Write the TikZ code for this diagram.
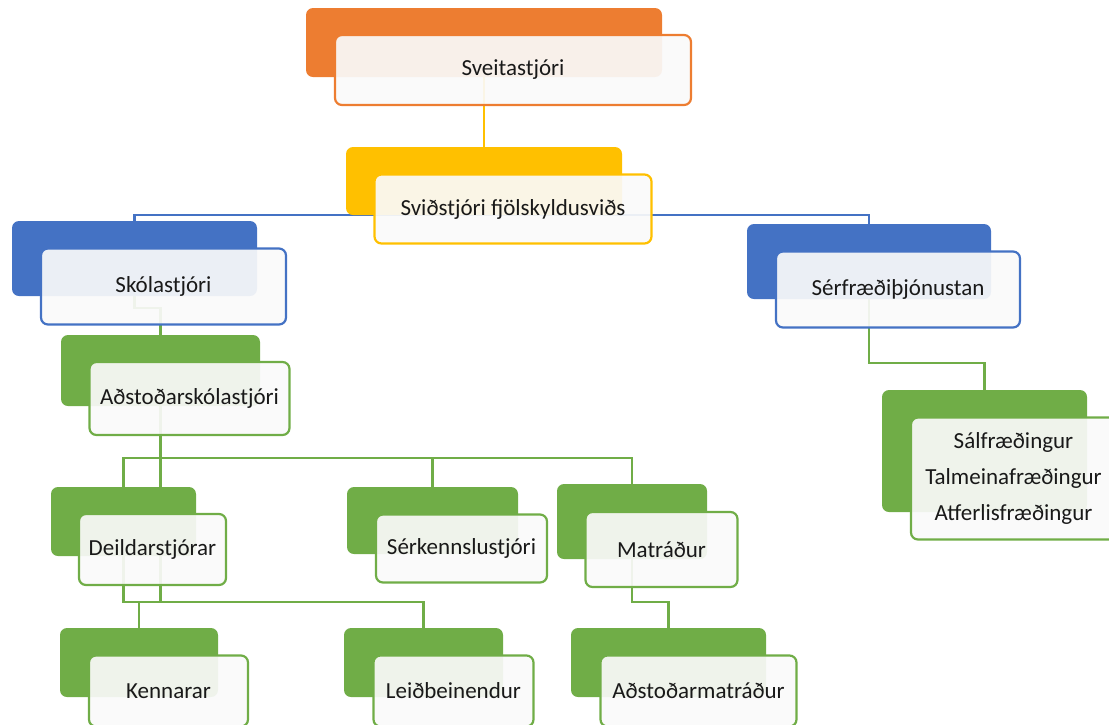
\documentclass[tikz,border=0pt]{standalone}
\usepackage{fontspec}
\setmainfont{Carlito}
\usetikzlibrary{backgrounds}
\definecolor{orgorange}{HTML}{ED7D31}
\definecolor{orgyellow}{HTML}{FFC000}
\definecolor{orgblue}{HTML}{4472C4}
\definecolor{orggreen}{HTML}{70AD47}
\tikzstyle{back}=[rounded corners=7pt, inner sep=0pt, draw=none]
\tikzstyle{front}=[rounded corners=7pt, inner sep=0pt, line width=2.2pt, fill=white!98!black, fill opacity=0.92, text opacity=1, text=black!90, font=\fontsize{23}{36}\selectfont]
\tikzstyle{link}=[line width=2.2pt]

\begin{document}
\begin{tikzpicture}[x=1pt,y=-1pt]
 \clip (0,0) rectangle (1109,724);
 % back boxes
 \node[back, fill=orgorange, minimum width=356, minimum height=69] (sveitaB) at (484,42.5) {};
 \node[back, fill=orgyellow, minimum width=276, minimum height=68] (svidB) at (484,181) {};
 \node[back, fill=orgblue, minimum width=245, minimum height=75] (skolB) at (134.5,258.5) {};
 \node[back, fill=orgblue, minimum width=244, minimum height=75] (serB) at (869,261.5) {};
 \node[back, fill=orggreen, minimum width=199, minimum height=71] (adsB) at (160.5,370.5) {};
 \node[back, fill=orggreen, minimum width=205, minimum height=122] (salB) at (984.5,451) {};
 \node[back, fill=orggreen, minimum width=145, minimum height=69] (delB) at (123.5,521.5) {};
 \node[back, fill=orggreen, minimum width=171, minimum height=67] (serkB) at (432.5,520.5) {};
 \node[back, fill=orggreen, minimum width=150, minimum height=75] (matB) at (632,521.5) {};
 \node[back, fill=orggreen, minimum width=158, minimum height=69] (kenB) at (139,662.5) {};
 \node[back, fill=orggreen, minimum width=159, minimum height=69] (leiB) at (423.5,662.5) {};
 \node[back, fill=orggreen, minimum width=195, minimum height=69] (adsmB) at (668.5,662.5) {};
 % front boxes
 \node[front, draw=orgorange, minimum width=356, minimum height=70] (sveita) at (513,70) {Sveitastjóri};
 \node[front, draw=orgyellow, minimum width=277, minimum height=69] (svid) at (513,209) {Sviðstjóri fjölskyldusviðs};
 \node[front, draw=orgblue, minimum width=245, minimum height=76] (skol) at (163.5,286.5) {Skólastjóri};
 \node[front, draw=orgblue, minimum width=244, minimum height=76] (ser) at (898,289.5) {Sérfræðiþjónustan};
 \node[front, draw=orggreen, minimum width=200, minimum height=73] (ads) at (189.5,398.5) {Aðstoðarskólastjóri};
 \node[front, draw=orggreen, minimum width=205, minimum height=122, align=center] (sal) at (1013.5,478.5) {Sálfræðingur\\Talmeinafræðingur\\Atferlisfræðingur};
 \node[front, draw=orggreen, minimum width=147, minimum height=71] (del) at (152.5,549.5) {Deildarstjórar};
 \node[front, draw=orggreen, minimum width=171, minimum height=68] (serk) at (461.5,548.5) {Sérkennslustjóri};
 \node[front, draw=orggreen, minimum width=152, minimum height=75] (mat) at (661.5,549.5) {Matráður};
 \node[front, draw=orggreen, minimum width=159, minimum height=71] (ken) at (168.5,691) {Kennarar};
 \node[front, draw=orggreen, minimum width=160, minimum height=71] (lei) at (453.5,691) {Leiðbeinendur};
 \node[front, draw=orggreen, minimum width=196, minimum height=71] (adsm) at (698.5,691) {Aðstoðarmatráður};
 % connectors, behind the boxes
 \begin{pgfonlayer}{background}
  \draw[link, orgyellow] (sveitaB.south) -- (svidB.north);
  \draw[link, orgblue] (svidB.south) -| (skolB.north);
  \draw[link, orgblue] (svidB.south) -| (serB.north);
  \draw[link, orggreen] (skolB.south) -- ++(0,12) -| (adsB.north);
  \draw[link, orggreen] (serB.south) -- ++(0,64) -| (salB.north);
  \draw[link, orggreen] (adsB.south) -- ++(0,52) coordinate (adsbar) -| (delB.north);
  \draw[link, orggreen] (adsbar) -| (serkB.north);
  \draw[link, orggreen] (adsbar) -| (matB.north);
  \draw[link, orggreen] (delB.south) -- ++(0,46) coordinate (delbar) -| (kenB.north);
  \draw[link, orggreen] (delbar) -| (leiB.north);
  \draw[link, orggreen] (adsbar) -- (adsbar |- delbar);
  \draw[link, orggreen] (matB.south) -- ++(0,43) -| (adsmB.north);
 \end{pgfonlayer}
\end{tikzpicture}
\end{document}
